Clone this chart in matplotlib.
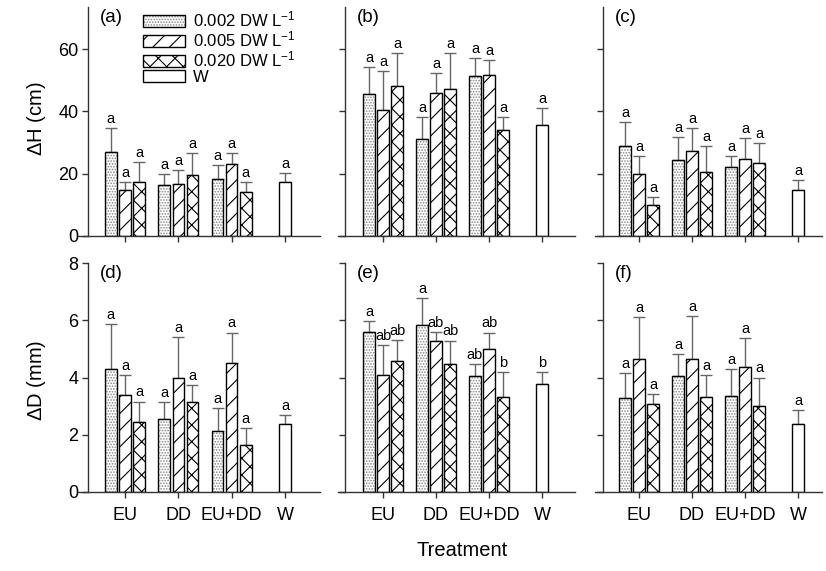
import matplotlib
matplotlib.use("Agg")
import matplotlib.pyplot as plt
from matplotlib.patches import Patch
import numpy as np

plt.rcParams['font.family'] = ['Liberation Sans', 'DejaVu Sans']
plt.rcParams['mathtext.fontset'] = 'custom'
plt.rcParams['mathtext.rm'] = 'Liberation Sans'
plt.rcParams['mathtext.it'] = 'Liberation Sans'
plt.rcParams['hatch.linewidth'] = 0.8

# treatments and concentrations
groups = ['EU', 'DD', 'EU+DD', 'W']
conc_labels = ['0.002 DW L$^{-1}$', '0.005 DW L$^{-1}$', '0.020 DW L$^{-1}$', 'W']

# order: EU(0.002, 0.005, 0.020), DD(...), EU+DD(...), W
h_a_mean = [27.0, 14.8, 17.3, 16.4, 16.8, 19.5, 18.3, 23.0, 14.0, 17.2]
h_a_err = [7.7, 2.4, 6.4, 3.5, 4.5, 7.2, 4.5, 3.6, 3.3, 3.1]
h_a_sig = ['a'] * 10

h_b_mean = [45.5, 40.6, 48.3, 31.0, 45.8, 47.1, 51.3, 51.6, 34.0, 35.6]
h_b_err = [8.8, 12.2, 10.3, 7.3, 6.6, 11.7, 5.7, 4.8, 4.3, 5.4]
h_b_sig = ['a'] * 10

h_c_mean = [28.9, 20.0, 9.8, 24.5, 27.2, 20.4, 22.2, 24.8, 23.4, 14.8]
h_c_err = [7.8, 5.8, 2.8, 7.2, 7.4, 8.4, 3.4, 6.6, 6.5, 3.1]
h_c_sig = ['a'] * 10

d_d_mean = [4.28, 3.39, 2.45, 2.55, 3.99, 3.16, 2.12, 4.49, 1.64, 2.39]
d_d_err = [1.58, 0.70, 0.71, 0.58, 1.42, 0.57, 0.80, 1.08, 0.61, 0.29]
d_d_sig = ['a'] * 10

d_e_mean = [5.60, 4.09, 4.58, 5.83, 5.29, 4.46, 4.05, 5.01, 3.32, 3.78]
d_e_err = [0.37, 1.03, 0.74, 0.95, 0.31, 0.83, 0.41, 0.56, 0.86, 0.42]
d_e_sig = ['a', 'ab', 'ab', 'a', 'ab', 'ab', 'ab', 'ab', 'b', 'b']

d_f_mean = [3.29, 4.64, 3.06, 4.04, 4.64, 3.31, 3.34, 4.38, 2.99, 2.37]
d_f_err = [0.86, 1.47, 0.36, 0.77, 1.51, 0.77, 0.96, 1.00, 1.01, 0.48]
d_f_sig = ['a'] * 10

hatches = ['......', '//', 'xx', '']
hatch_cols = ['#888888', 'black', 'black', 'black']
bar_w = 0.215
offset = 0.265
axcol = '#333333'

fig = plt.figure(figsize=(8.26, 5.71), dpi=100)

# axes boxes in pixels: left, right, spine x (px)
cols = [(78, 320, 88), (338, 575, 345), (595, 822, 603)]
tick_px = [(125, 285), (383, 542), (639, 798)]
rows = [(7, 236), (263, 492)]

panels = [
    (0, 0, '(a)', h_a_mean, h_a_err, h_a_sig),
    (0, 1, '(b)', h_b_mean, h_b_err, h_b_sig),
    (0, 2, '(c)', h_c_mean, h_c_err, h_c_sig),
    (1, 0, '(d)', d_d_mean, d_d_err, d_d_sig),
    (1, 1, '(e)', d_e_mean, d_e_err, d_e_sig),
    (1, 2, '(f)', d_f_mean, d_f_err, d_f_sig),
]

W, H = 826.0, 571.0
for r, c, tag, mean, err, sig in panels:
    left, right, spx = cols[c]
    top, bot = rows[r]
    ax = fig.add_axes([left / W, 1 - bot / H, (right - left) / W, (bot - top) / H])
    t1, t4 = tick_px[c]
    unit = (t4 - t1) / 3.0
    ax.set_xlim(1 - (t1 - left) / unit, 4 + (right - t4) / unit)
    ax.spines['left'].set_position(('data', 1 - (t1 - spx) / unit))

    mean = np.array(mean)
    err = np.array(err)
    for j in range(4):
        if j < 3:
            pos = np.arange(1, 4) + (j - 1) * offset
            m = mean[j:9:3]
            e = err[j:9:3]
            s = sig[j:9:3]
        else:
            pos = np.array([4.0])
            m = mean[9:10]
            e = err[9:10]
            s = sig[9:10]
        ax.errorbar(pos, m, yerr=[np.zeros_like(e), e], fmt='none', ecolor='#666666',
                    elinewidth=1.0, capsize=4, capthick=1.0, zorder=1)
        # hatch drawn first, outline on top
        ax.bar(pos, m, bar_w, color='white', edgecolor=hatch_cols[j], hatch=hatches[j],
               linewidth=0, zorder=2)
        ax.bar(pos, m, bar_w, color='none', edgecolor='black', linewidth=1.0, zorder=3)
        for p, v, ee, txt in zip(pos, m, e, s):
            ax.annotate(txt, (p, v + ee), xytext=(0, 1.5), textcoords='offset points',
                        ha='center', va='bottom', fontsize=10.5)

    if r == 0:
        ax.set_ylim(0, 73.5)
        ax.set_yticks([0, 20, 40, 60])
    else:
        ax.set_ylim(0, 8)
        ax.set_yticks([0, 2, 4, 6, 8])
    ax.set_xticks([1, 2, 3, 4])
    if r == 1:
        ax.set_xticklabels(groups)
    else:
        ax.set_xticklabels([])
    if c != 0:
        ax.set_yticklabels([])

    for sp in ['top', 'right']:
        ax.spines[sp].set_visible(False)
    for sp in ['left', 'bottom']:
        ax.spines[sp].set_color(axcol)
        ax.spines[sp].set_linewidth(1.0)
    ax.tick_params(direction='out', length=4, width=1, color=axcol, labelsize=13)
    ax.tick_params(axis='x', pad=7)
    ax.tick_params(axis='y', pad=3)

    ax.text((100 - left + spx - 88) / (right - left), 0.955,
            tag, transform=ax.transAxes, fontsize=13.5, va='center', ha='left')

    if tag == '(a)':
        handles = []
        for j in range(4):
            fill = Patch(facecolor='white', edgecolor=hatch_cols[j], hatch=hatches[j], linewidth=0)
            outline = Patch(facecolor='none', edgecolor='black', linewidth=1.0)
            handles.append((fill, outline))
        ax.legend(handles=handles, labels=conc_labels, loc='upper left',
                  bbox_to_anchor=(143 / W, 1 - 10 / H),
                  bbox_transform=fig.transFigure, frameon=False, fontsize=12,
                  handlelength=2.5, handleheight=0.8, handletextpad=0.5,
                  labelspacing=0.0, borderpad=0, borderaxespad=0)

fig.text(37 / W, 1 - 119 / H, r'$\Delta$H (cm)', rotation=90, ha='center', va='center', fontsize=14.5)
fig.text(37 / W, 1 - 380 / H, r'$\Delta$D (mm)', rotation=90, ha='center', va='center', fontsize=14.5)
fig.text(462 / W, 1 - 551 / H, 'Treatment', ha='center', va='center', fontsize=14.5)

fig.savefig('out.png', dpi=100)
